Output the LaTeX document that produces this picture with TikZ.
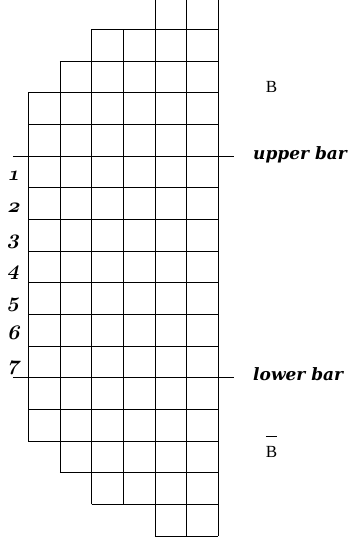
\documentclass[tikz,border=0pt]{standalone}
\usepackage{tikz}
\usepackage{amsmath}
\usepackage{fontspec}
\newfontfamily\barfont{DejaVu Serif}
\newfontfamily\setfont{Liberation Serif}
\newcommand{\rownum}[1]{{\fontencoding{OML}\fontfamily{cmm}\fontseries{b}\fontshape{it}\selectfont #1}}

\begin{document}
\begin{tikzpicture}[x=31.67pt,y=31.67pt,
    cellgrid/.style={line width=0.8pt,step=1},
    barline/.style={line width=0.8pt},
    rowlbl/.style={font=\huge,anchor=base,inner sep=0pt,transform shape},
    barlbl/.style={font=\fontsize{17}{20}\barfont\bfseries\itshape,anchor=base west,inner sep=0pt},
    setlbl/.style={font=\fontsize{17}{20}\setfont,anchor=base,inner sep=0pt}]

    \clip (-0.894,-0.253) rectangle (10.126,16.924);

    % rows of cells, from the top: row / first column
    \foreach \r/\s in {0/4,1/2,2/1,3/0,4/0,5/0,6/0,7/0,8/0,
                       9/0,10/0,11/0,12/0,13/0,14/1,15/2,16/4}{
      \draw[cellgrid] (\s,16-\r) grid (6,17-\r);
    }

    % the two bars
    \coordinate (upperL) at (-0.49,12);
    \coordinate (upperR) at (6.5,12);
    \coordinate (lowerL) at (-0.49,5);
    \coordinate (lowerR) at (6.5,5);
    \draw[barline] (upperL) -- (upperR);
    \draw[barline] (lowerL) -- (lowerR);
    \node[barlbl] (upper) at (7.095,11.9) {upper bar};
    \node[barlbl] (lower) at (7.095,4.9) {lower bar};

    % numbers between the bars
    \foreach \n in {1,...,7}{
      \begin{scope}[shift={(-0.47,12.21-\n)},xslant=0.22]
        \node[rowlbl] (lbl\n) at (0,0) {\rownum{\n}};
      \end{scope}
    }

    \node[setlbl] (bset) at (7.68,14) {B};
    \node[setlbl] (bbarset) at (7.68,2.47)
      {$\overline{\vphantom{\rule{0pt}{19pt}}\mbox{\setfont B}}$};

  \end{tikzpicture}
\end{document}
